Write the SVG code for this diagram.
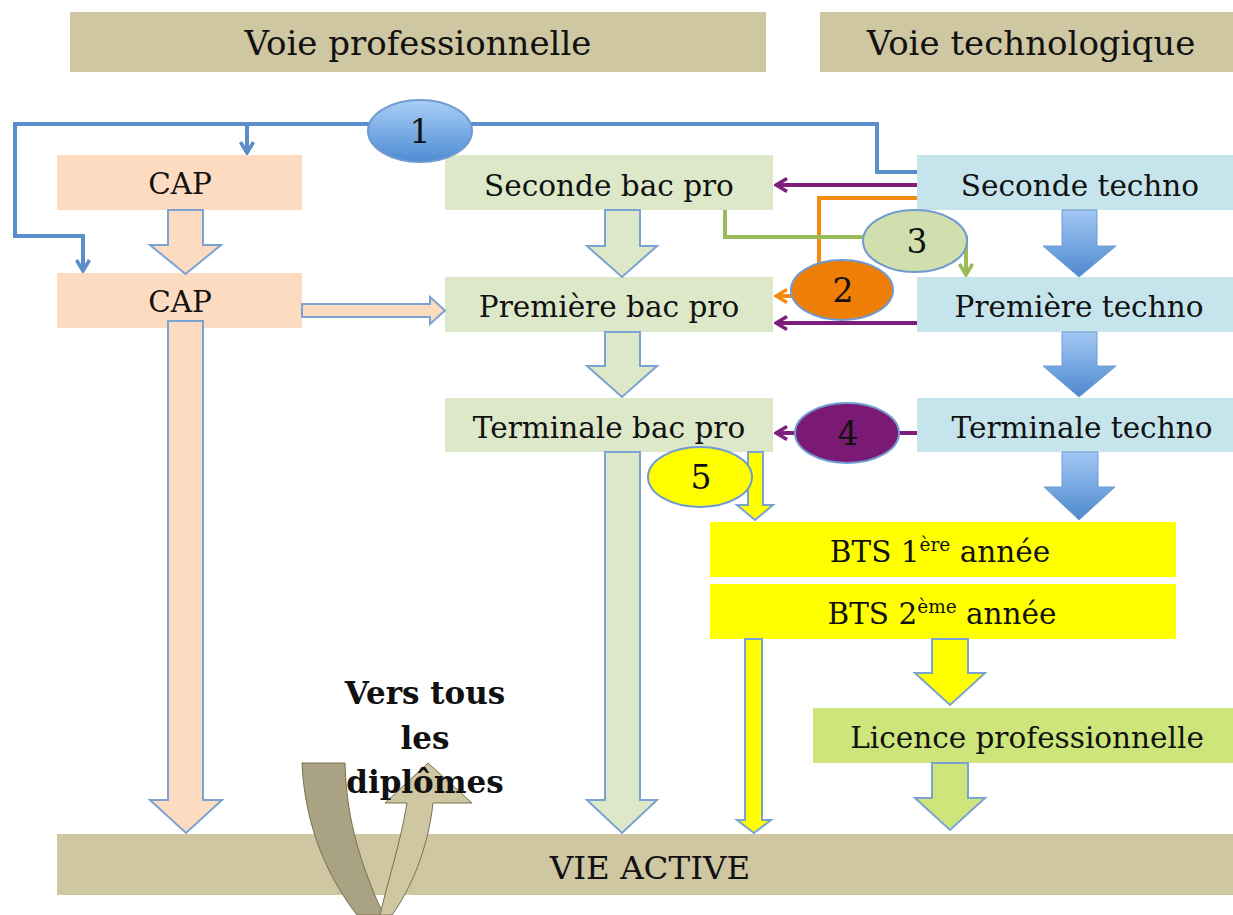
<svg xmlns="http://www.w3.org/2000/svg" width="1233" height="915" viewBox="0 0 1233 915">
<defs>
<style>
.t{font-family:"DejaVu Serif","Liberation Serif",serif;fill:#111;text-anchor:middle}
.bx{font-size:29.5px}
.hd{font-size:34px}
.num{font-size:33px}
.peach{fill:#fddbc0}
.sage{fill:#dde8c9}
.sky{fill:#c5e4ec}
.tan{fill:#cfc6a2}
.yel{fill:#ffff00}
.lic{fill:#cde57a}
.blk{stroke:#7aa3d3;stroke-width:2;stroke-linejoin:miter}
.ln{fill:none;stroke-width:4;stroke-linejoin:miter}
.ell{stroke:#6f9bd0;stroke-width:2}
</style>
<linearGradient id="gBlue" x1="0" y1="0" x2="0" y2="1">
<stop offset="0" stop-color="#a9cff8"/><stop offset="1" stop-color="#4e8bd3"/>
</linearGradient>
<linearGradient id="gArr" x1="0" y1="0" x2="0" y2="1">
<stop offset="0" stop-color="#a3c8f4"/><stop offset="1" stop-color="#4d88cf"/>
</linearGradient>
<marker id="mB" markerUnits="userSpaceOnUse" markerWidth="16" markerHeight="16" viewBox="0 0 16 16" refX="14" refY="8" orient="auto"><path d="M3,1.5 L14,8 L3,14.5" fill="none" stroke="#5b8ecb" stroke-width="3.5"/></marker>
<marker id="mP" markerUnits="userSpaceOnUse" markerWidth="16" markerHeight="16" viewBox="0 0 16 16" refX="14" refY="8" orient="auto"><path d="M3,1.5 L14,8 L3,14.5" fill="none" stroke="#7d1f7a" stroke-width="3.5"/></marker>
<marker id="mO" markerUnits="userSpaceOnUse" markerWidth="16" markerHeight="16" viewBox="0 0 16 16" refX="14" refY="8" orient="auto"><path d="M3,1.5 L14,8 L3,14.5" fill="none" stroke="#f38b12" stroke-width="3.5"/></marker>
<marker id="mG" markerUnits="userSpaceOnUse" markerWidth="16" markerHeight="16" viewBox="0 0 16 16" refX="14" refY="8" orient="auto"><path d="M3,1.5 L14,8 L3,14.5" fill="none" stroke="#9bbb59" stroke-width="3.5"/></marker>
</defs>
<rect width="1233" height="915" fill="#ffffff"/>

<g id="hdr-pro"><rect class="tan" x="70" y="12" width="696" height="60"/><text class="t hd" x="418" y="55">Voie professionnelle</text></g>
<g id="hdr-techno"><rect class="tan" x="820" y="12" width="413" height="60"/><text class="t hd" x="1031" y="55">Voie technologique</text></g>

<g id="vie-active"><rect class="tan" x="57" y="834" width="1176" height="61"/><text class="t" x="650" y="879" style="font-size:32.5px">VIE ACTIVE</text></g>

<g id="cap1"><rect class="peach" x="57" y="155" width="245" height="55"/><text class="t bx" x="180" y="194">CAP</text></g>
<g id="cap2"><rect class="peach" x="57" y="273" width="245" height="55"/><text class="t bx" x="180" y="312">CAP</text></g>
<g id="seconde-pro"><rect class="sage" x="445" y="155" width="328" height="55"/><text class="t bx" x="609" y="196">Seconde bac pro</text></g>
<g id="premiere-pro"><rect class="sage" x="445" y="277" width="328" height="55"/><text class="t bx" x="609" y="317">Première bac pro</text></g>
<g id="terminale-pro"><rect class="sage" x="445" y="398" width="328" height="54"/><text class="t bx" x="609" y="438">Terminale bac pro</text></g>
<g id="seconde-techno"><rect class="sky" x="917" y="155" width="316" height="55"/><text class="t bx" x="1080" y="196">Seconde techno</text></g>
<g id="premiere-techno"><rect class="sky" x="917" y="277" width="316" height="55"/><text class="t bx" x="1079" y="317">Première techno</text></g>
<g id="terminale-techno"><rect class="sky" x="917" y="398" width="316" height="54"/><text class="t bx" x="1082" y="438">Terminale techno</text></g>
<g id="bts1"><rect class="yel" x="710" y="522" width="466" height="55"/><text class="t bx" x="940" y="562">BTS 1<tspan dy="-11" font-size="18.5">ère</tspan><tspan dy="11"> année</tspan></text></g>
<g id="bts2"><rect class="yel" x="710" y="584" width="466" height="55"/><text class="t bx" x="942" y="624">BTS 2<tspan dy="-11" font-size="18.5">ème</tspan><tspan dy="11"> année</tspan></text></g>
<g id="licence"><rect class="lic" x="813" y="708" width="420" height="55"/><text class="t bx" x="1027" y="748">Licence professionnelle</text></g>

<g id="block-arrows">
<path class="peach blk" d="M168,210 H203 V245 H221 L185.5,274 L150,245 H168 Z"/>
<path class="peach blk" d="M302,304 H430 V297 L445,310.5 L430,324 V317 H302 Z"/>
<path class="peach blk" d="M168,321 H203 V800 H222 L186,833 L150,800 H168 Z"/>
<path class="sage blk" d="M605,210 H640 V246 H657 L622,277 L587,246 H605 Z"/>
<path class="sage blk" d="M605,332 H640 V366 H657 L622,397 L587,366 H605 Z"/>
<path class="sage blk" d="M605,452 H640 V800 H657 L622,833 L587,800 H605 Z"/>
<path class="yel blk" d="M748,452 H763 V505 H773 L755,520 L737,505 H748 Z"/>
<path fill="url(#gArr)" stroke="#6f9bd0" stroke-width="1" d="M1062,210 H1097 V246 H1116 L1079,277 L1043,246 H1062 Z"/>
<path fill="url(#gArr)" stroke="#6f9bd0" stroke-width="1" d="M1062,332 H1097 V366 H1116 L1079,397 L1043,366 H1062 Z"/>
<path fill="url(#gArr)" stroke="#6f9bd0" stroke-width="1" d="M1062,452 H1098 V487 H1115 L1079,520 L1044,487 H1062 Z"/>
<path class="yel blk" d="M932,639 H968 V673 H985 L950,705 L915,673 H932 Z"/>
<path class="yel blk" d="M745,639 H762 V820 H771 L754,833 L737,820 H745 Z"/>
<path class="lic blk" d="M932,763 H968 V798 H985 L950,830 L915,798 H932 Z"/>
</g>

<g id="connectors">
<path class="ln" stroke="#5b8ecb" d="M917,172 H877 V124 H15 V236 H83 V271" marker-end="url(#mB)"/>
<path class="ln" stroke="#5b8ecb" d="M247,124 V153" marker-end="url(#mB)"/>
<path class="ln" stroke="#7d1f7a" d="M917,185 H776" marker-end="url(#mP)"/>
<path class="ln" stroke="#7d1f7a" d="M917,323 H776" marker-end="url(#mP)"/>
<path class="ln" stroke="#7d1f7a" d="M917,433 H880"/>
<path class="ln" stroke="#7d1f7a" d="M800,433 H776" marker-end="url(#mP)"/>
<path class="ln" stroke="#f38b12" d="M917,198 H819 V270"/>
<path class="ln" stroke="#f38b12" d="M800,296 H776" marker-end="url(#mO)"/>
<path class="ln" stroke="#9bbb59" d="M725,210 V237 H966 V275" marker-end="url(#mG)"/>
</g>

<g id="badge-1"><ellipse cx="420" cy="131" rx="52" ry="31" fill="url(#gBlue)" class="ell"/><text class="t num" x="420" y="143">1</text></g>
<g id="badge-3"><ellipse cx="915" cy="241" rx="52" ry="31" fill="#d1dfae" class="ell"/><text class="t num" x="917" y="253">3</text></g>
<g id="badge-2"><ellipse cx="842" cy="290" rx="51" ry="30" fill="#ee7e07" class="ell"/><text class="t num" x="843" y="302">2</text></g>
<g id="badge-4"><ellipse cx="847" cy="433" rx="52" ry="30" fill="#7b1a74" class="ell"/><text class="t num" x="848" y="445">4</text></g>
<g id="badge-5"><ellipse cx="700" cy="477" rx="52" ry="30" fill="#ffff00" class="ell"/><text class="t num" x="701" y="489">5</text></g>

<g id="uturn">
<path fill="#a9a283" stroke="#7a7050" stroke-width="1" d="M302,763 H345 C346,800 352,845 380,907 L392,915 H357 C330,880 305,830 302,763 Z"/>
<path fill="#cfc6a2" stroke="#7a7050" stroke-width="1" d="M380,915 C388,880 400,845 407,803 H385 L428,763 L472,803 H433 C428,850 410,890 392,915 Z"/>
</g>
<g id="note"><text class="t" style="font-size:31px;font-weight:bold"><tspan x="425" y="704">Vers tous</tspan><tspan x="425" y="749">les</tspan><tspan x="425" y="793">diplômes</tspan></text></g>
</svg>
